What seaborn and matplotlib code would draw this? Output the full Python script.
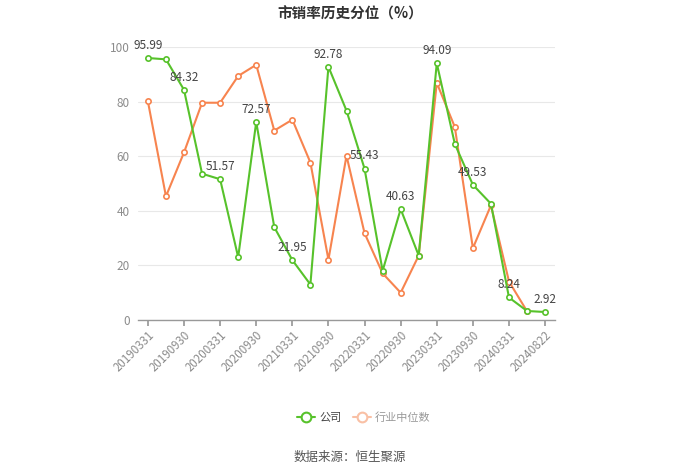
import matplotlib
matplotlib.use("Agg")
import matplotlib.pyplot as plt
import seaborn as sns
import numpy as np
import pandas as pd
from matplotlib.lines import Line2D

dates = ["20190331", "20190630", "20190930", "20191231", "20200331", "20200630",
         "20200930", "20201231", "20210331", "20210630", "20210930", "20211231",
         "20220331", "20220630", "20220930", "20221231", "20230331", "20230630",
         "20230930", "20231231", "20240331", "20240630", "20240822"]
company = [95.99, 95.5, 84.32, 53.6, 51.57, 23.0, 72.57, 34.0, 21.95, 13.0, 92.78, 76.7,
           55.43, 18.0, 40.63, 23.6, 94.09, 64.5, 49.53, 42.6, 8.24, 3.3, 2.92]
industry = [80.1, 45.3, 61.4, 79.6, 79.6, 89.4, 93.5, 69.4, 73.4, 57.7, 22.1, 60.2,
            31.8, 17.1, 10.0, 23.6, 86.9, 70.7, 26.3, 42.0, 14.1, 3.2, np.nan]
tick_labels = dates[::2]
series_names = ["公司", "行业中位数"]

GREEN = "#57c22b"
ORANGE = "#f7844f"

sns.set_theme(style="white")
plt.rcParams['font.family'] = ['Noto Sans CJK SC', 'DejaVu Sans']

df = pd.DataFrame({"idx": np.arange(len(dates)), "company": company, "industry": industry})

fig = plt.figure(figsize=(7, 4.73), dpi=100)
ax = fig.add_axes([0.197, 0.3235, 0.596, 0.577])

sns.lineplot(data=df, x="idx", y="industry", ax=ax, color=ORANGE, lw=1.5,
             marker="o", markersize=3.8, markerfacecolor="white",
             markeredgecolor=ORANGE, markeredgewidth=1.2, zorder=3)
sns.lineplot(data=df, x="idx", y="company", ax=ax, color=GREEN, lw=1.5,
             marker="o", markersize=3.8, markerfacecolor="white",
             markeredgecolor=GREEN, markeredgewidth=1.2, zorder=4)

for i in range(0, len(dates), 2):
    ax.annotate(f"{company[i]:.2f}", (i, company[i]), xytext=(0, 4.5),
                textcoords="offset points", ha="center", va="bottom",
                fontsize=8.5, color="#444444", zorder=5)

ax.set_xlim(-0.554, len(dates) - 1 + 0.554)
ax.set_ylim(0, 100)
ax.set_yticks([0, 20, 40, 60, 80, 100])
ax.set_yticklabels(["0", "20", "40", "60", "80", "100"], fontsize=8.5, color="#8c8c8c")
ax.set_xticks(np.arange(0, len(dates), 2))
ax.set_xticklabels(tick_labels, rotation=45, ha="right", rotation_mode="anchor",
                   fontsize=8.3, color="#8c8c8c")
ax.set_xlabel("")
ax.set_ylabel("")
ax.grid(axis="y", color="#e8e8e8", lw=0.8)
ax.set_axisbelow(True)
for s in ["top", "right", "left"]:
    ax.spines[s].set_visible(False)
ax.spines["bottom"].set_color("#999999")
ax.spines["bottom"].set_linewidth(1)
ax.tick_params(axis="x", length=4, color="#999999", pad=2, bottom=True)
ax.tick_params(axis="y", length=0, pad=6)

fig.text(0.5, 0.972, "市销率历史分位（%）", ha="center", va="center",
         fontsize=10.5, fontweight="bold", color="#333333")
fig.text(0.5, 0.034, "数据来源：恒生聚源", ha="center", va="center",
         fontsize=9, color="#555555")

handles = [
    Line2D([0], [0], color=GREEN, lw=1.5, marker="o", markersize=7,
           markerfacecolor="white", markeredgecolor=GREEN, markeredgewidth=1.5),
    Line2D([0], [0], color="#f9c0a5", lw=1.5, marker="o", markersize=7,
           markerfacecolor="white", markeredgecolor="#f9c0a5", markeredgewidth=1.5),
]
leg = fig.legend(handles, series_names, loc="center", bbox_to_anchor=(0.52, 0.118),
                 ncol=2, frameon=False, fontsize=8, handlelength=1.6,
                 columnspacing=1.0, handletextpad=0.4)
leg.get_texts()[0].set_color("#444444")
leg.get_texts()[1].set_color("#999999")

fig.savefig("out.png", dpi=100)
